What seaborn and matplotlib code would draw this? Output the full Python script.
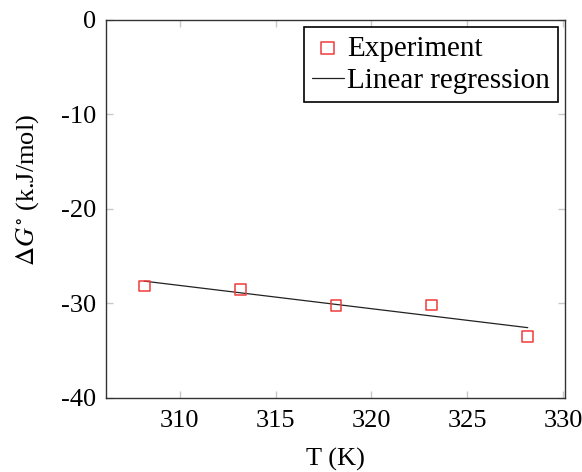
import numpy as np
import pandas as pd
import matplotlib
matplotlib.use("Agg")
import matplotlib.pyplot as plt
import seaborn as sns

# Data
temperature = [308.15, 313.15, 318.15, 323.15, 328.15]
delta_g = [-28.15, -28.5, -30.26, -30.16, -33.47]
x_ticks = [310, 315, 320, 325, 330]
y_ticks = [0, -10, -20, -30, -40]

sns.set_theme(style="ticks")
plt.rcParams["font.family"] = ["Liberation Serif", "DejaVu Serif"]
plt.rcParams["mathtext.fontset"] = "stix"
plt.rcParams["axes.unicode_minus"] = False

df = pd.DataFrame({"T": temperature, "dG": delta_g})
slope, intercept = np.polyfit(df["T"], df["dG"], 1)
fit = pd.DataFrame({"T": [min(temperature), max(temperature)]})
fit["dG"] = slope * fit["T"] + intercept

FS = 19
fig = plt.figure(figsize=(5.82, 4.72), dpi=100)
ax = fig.add_axes([0.182, 0.157, 0.789, 0.801])

sns.scatterplot(data=df, x="T", y="dG", ax=ax, marker="s", s=60,
                facecolor="none", edgecolor="#f03a3a", linewidth=1.1,
                label="Experiment", zorder=3)
sns.lineplot(data=fit, x="T", y="dG", ax=ax, color="#222222", linewidth=0.9,
             label="Linear regression", zorder=2)

ax.set_xlim(306.15, 330.1)
ax.set_ylim(-40, 0)
ax.set_xticks(x_ticks)
ax.set_yticks(y_ticks)
ax.set_xticklabels([str(t) for t in x_ticks], fontsize=FS)
ax.set_yticklabels([str(t) for t in y_ticks], fontsize=FS)
ax.tick_params(axis="x", pad=9)
ax.tick_params(axis="y", pad=7)
ax.tick_params(direction="in", length=5, width=1, color="#c8c8c8",
               top=True, right=True, labelcolor="black")
for s in ax.spines.values():
    s.set_color("#333333")
    s.set_linewidth(1.0)

ax.set_xlabel("T (K)", fontsize=FS, labelpad=11, color="black")
ax.set_ylabel(r"$\Delta G^{\circ}$ (k.J/mol)", fontsize=FS, color="black")
ax.yaxis.set_label_coords(-0.141, 0.55)

leg = ax.legend(loc="upper right", fontsize=21, frameon=True, fancybox=False,
                edgecolor="black", framealpha=1, borderpad=0.28,
                handlelength=1.1, handletextpad=0.1, labelspacing=0.2,
                borderaxespad=0.25, markerscale=1.2, labelcolor="black")
leg.get_frame().set_linewidth(1.2)

fig.savefig("out.png", dpi=100)
